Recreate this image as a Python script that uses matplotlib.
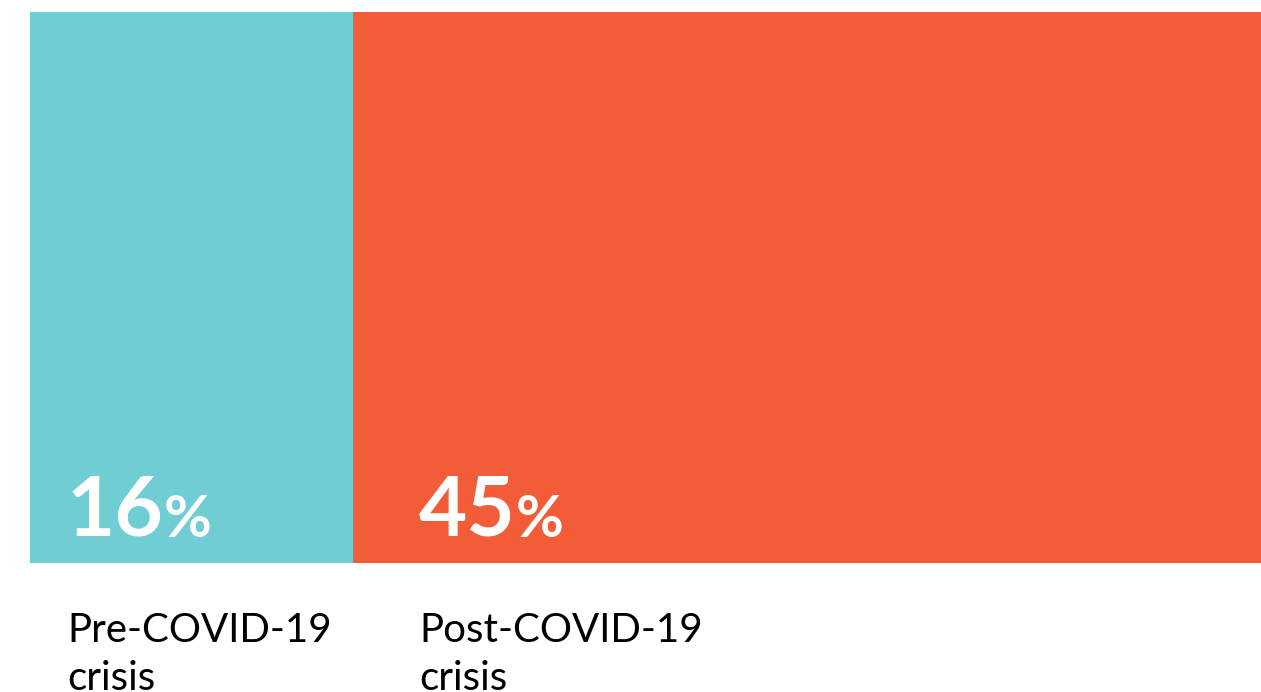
import matplotlib.pyplot as plt

# share of respondents, before and after the crisis
periods = ["Pre-COVID-19\ncrisis", "Post-COVID-19\ncrisis"]
shares = [16, 45]
colors = ["#70CDD4", "#F25C38"]

plt.rcParams['font.family'] = ['Lato', 'DejaVu Sans']

fig = plt.figure(figsize=(12.61, 6.92), dpi=100)
ax = fig.add_axes([30 / 1261, (692 - 563) / 692, 1231 / 1261, 551 / 692])

# bar widths follow the values (marimekko style)
lefts = [sum(shares[:i]) for i in range(len(shares))]
ax.bar(lefts, [1] * len(shares), width=shares, align='edge', color=colors, linewidth=0)
ax.set_xlim(0, sum(shares))
ax.set_ylim(0, 1)
ax.axis('off')

# text offset from each bar's left edge, in pixels
pads = [37, 66]
for left, val, lab, pad in zip(lefts, shares, periods, pads):
    num = ax.annotate(str(val), xy=(left, 0), xytext=(pad * 0.72, 20), textcoords='offset points',
                      fontsize=60, fontweight='bold', color='white', va='baseline', ha='left')
    ax.annotate('%', xy=(1, 0), xycoords=num, xytext=(0, 8.5), textcoords='offset points',
                fontsize=42, fontweight='bold', color='white', va='baseline', ha='left')
    # va='baseline' pins the last line here
    ax.annotate(lab, xy=(left, 0), xytext=(pad * 0.72, -91.5), textcoords='offset points',
                fontsize=29, color='black', va='baseline', ha='left', linespacing=1.37,
                annotation_clip=False)

fig.savefig('out.png', dpi=100)
